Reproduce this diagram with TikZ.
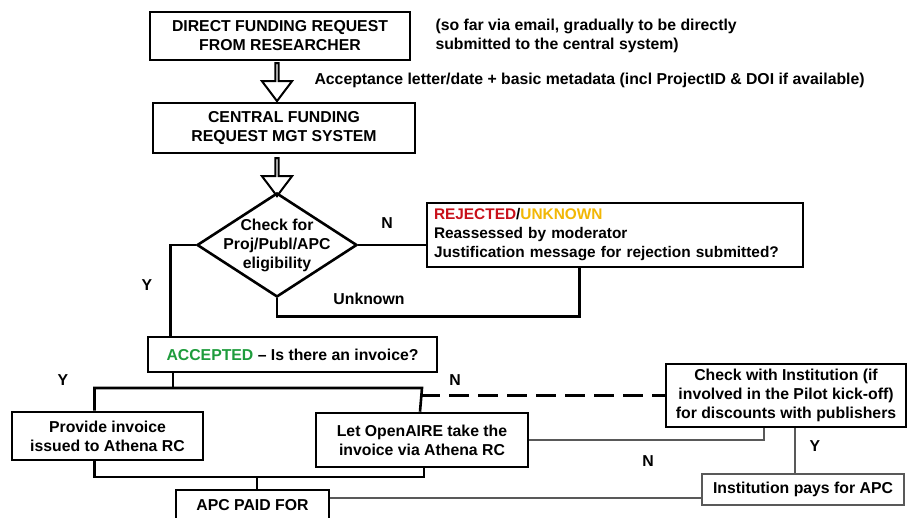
\documentclass[tikz,border=0pt]{standalone}
\usepackage{fontspec}
\setmainfont{Liberation Sans}
\usepackage{xcolor}
\definecolor{colorRejected}{HTML}{C8101A}
\definecolor{colorUnknown}{HTML}{F2B705}
\definecolor{colorAccepted}{HTML}{1E9C3C}
\colorlet{colorThin}{black!65}
\usetikzlibrary{positioning, shapes.geometric, shapes.arrows}

\begin{document}
\begin{tikzpicture}[x=1pt, y=-1pt, font=\bfseries\fontsize{15.8}{19}\selectfont,
  box/.style={draw, line width=2.6pt, align=center, inner sep=0pt},
  thinbox/.style={draw, colorThin, line width=1.3pt, text=black, align=center, inner sep=0pt},
  decision/.style={draw, diamond, line width=2.6pt, inner sep=0pt, minimum width=160pt, minimum height=104pt},
  bigarrow/.style={draw, single arrow, line width=2pt, shape border rotate=270, single arrow head extend=8pt, single arrow tip angle=74, minimum width=30pt, inner sep=0pt},
  link/.style={line width=2.6pt},
  thinlink/.style={colorThin, line width=1.3pt}]
\clip (0,0) rectangle (907,518);
\fill[white] (0,0) rectangle (907,518);
\node[box, minimum width=260pt, minimum height=48pt] (direct) at (280,36) {DIRECT FUNDING REQUEST\\FROM RESEARCHER};
\node[anchor=west, align=left] (note) at (432,36) {(so far via email, gradually to be directly\\submitted to the central system)};
\node[box, minimum width=262pt, minimum height=50pt] (central) at (284,128) {CENTRAL FUNDING\\REQUEST MGT SYSTEM};
\node[bigarrow, minimum height=38pt] (arr1) at (277,81) {};
\node[anchor=west] (meta) at (311,80) {Acceptance letter/date + basic metadata (incl ProjectID \& DOI if available)};
\node[bigarrow, minimum height=38pt] (arr2) at (277,176) {};
\node[decision] (chk) at (277,245) {};
\node[align=center] (chktxt) at (chk) {Check for\\Proj/Publ/APC\\eligibility};
\node[box, align=left, text width=362pt, inner xsep=7pt, minimum height=64pt, font=\bfseries\fontsize{15.4}{19}\selectfont] (rej) at (615,235) {\textcolor{colorRejected}{REJECTED}/\textcolor{colorUnknown}{UNKNOWN}\\Reassessed by moderator\\Justification message for rejection submitted?};
\node[box, minimum width=289pt, minimum height=35pt] (acc) at (292.5,354.5) {\textcolor{colorAccepted}{ACCEPTED} -- Is there an invoice?};
\node[box, minimum width=191pt, minimum height=48pt] (prov) at (107.5,436) {Provide invoice\\issued to Athena RC};
\node[box, minimum width=212pt, minimum height=54pt] (opn) at (422,440) {Let OpenAIRE take the\\invoice via Athena RC};
\node[box, minimum width=153pt, minimum height=30pt] (apc) at (252.5,505) {APC PAID FOR};
\node[box, minimum width=240pt, minimum height=63pt] (chki) at (786,395.5) {Check with Institution (if\\involved in the Pilot kick-off)\\for discounts with publishers};
\node[thinbox, minimum width=202pt, minimum height=31pt] (pays) at (803,489.5) {Institution pays for APC};
\coordinate (split) at (173,388);
\coordinate (merge) at (257,477);

% eligibility check
\draw[link] (chk.west) -| ([xshift=24pt]acc.north west);
\node (y1) at (147,285) {Y};
\draw[link] (chk.east) -- (chk.east -| rej.west);
\node (n1) at (387,223) {N};
\draw[link] (chk.south) -- ++(0,18) -| ([xshift=154pt]rej.south west);
\node (unk) at (369,299) {Unknown};

% invoice or not
\draw[link] (acc.south -| split) -- (split);
\draw[link] ([xshift=-13pt]prov.north) |- (opn.north |- split) -- ([xshift=-2pt]opn.north);
\node (y2) at (63,380) {Y};
\draw[link, dash pattern=on 20pt off 9pt] ([xshift=-2pt]opn.north |- chki.west) -- (chki.west);
\node (n2) at (455,380) {N};
\draw[link] ([xshift=-13pt]prov.south) |- (merge) -| ([xshift=2pt]opn.south);
\draw[link] (merge) -- (apc.north -| merge);

% institution
\draw[thinlink] (opn.east) -| ([xshift=-22pt]chki.south);
\node (n3) at (648,461) {N};
\draw[thinlink] ([xshift=9pt]chki.south) -- ([xshift=9pt]chki.south |- pays.north);
\node (y3) at (815,446) {Y};
\draw[thinlink] ([yshift=7pt]apc.east) -- ([yshift=7pt]apc.east -| pays.west);
\end{tikzpicture}
\end{document}
